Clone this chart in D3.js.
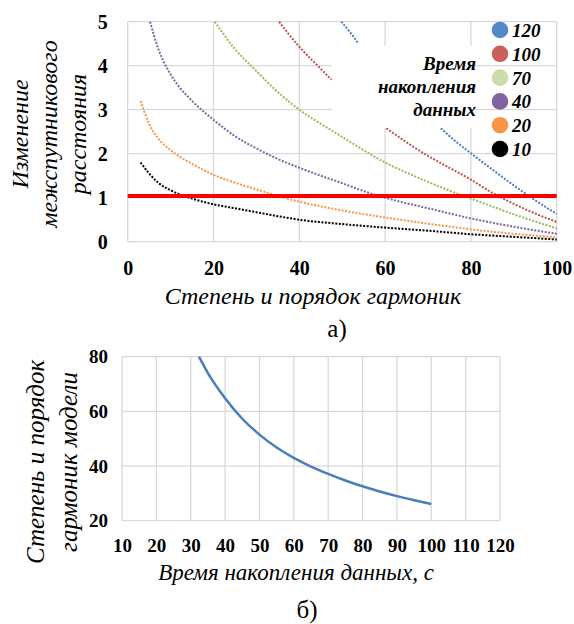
<!DOCTYPE html>
<html>
<head>
<meta charset="utf-8">
<script src="https://cdn.jsdelivr.net/npm/d3@7"></script>
<style>
  body { margin: 0; background: #fff; }
  svg { display: block; }
  svg text { font-family: "Liberation Serif", "Times New Roman", Tinos, "DejaVu Serif", serif; fill: #000; }
</style>
</head>
<body>
<svg id="chart" width="574" height="624"></svg>
<script>
// ---------- Panel (a): distance change vs harmonic degree, per accumulation time ----------
const degreeTicks = [0, 20, 40, 60, 80, 100];
const changeTicks = [0, 1, 2, 3, 4, 5];
const thresholdValue = 1.04;

// accumulation time 10 s
const deg10 = [3, 5, 7, 10, 12, 15, 20, 25, 30, 35, 40, 50, 60, 70, 80, 90, 100];
const val10 = [1.80, 1.55, 1.35, 1.17, 1.08, 0.98, 0.85, 0.76, 0.67, 0.58, 0.50, 0.40, 0.32, 0.25, 0.17, 0.11, 0.05];
// accumulation time 20 s
const deg20 = [3, 5, 7, 10, 12, 15, 20, 25, 30, 35, 40, 50, 60, 70, 80, 90, 100];
const val20 = [3.20, 2.68, 2.36, 2.08, 1.94, 1.77, 1.52, 1.34, 1.19, 1.04, 0.91, 0.71, 0.55, 0.41, 0.28, 0.18, 0.10];
// accumulation time 40 s
const deg40 = [5.2, 7, 10, 12, 15, 20, 25, 30, 35, 40, 45, 50, 55, 60, 70, 80, 90, 100];
const val40 = [5.0, 4.42, 3.80, 3.52, 3.20, 2.77, 2.40, 2.12, 1.88, 1.68, 1.50, 1.33, 1.15, 1.00, 0.76, 0.53, 0.34, 0.18];
// accumulation time 70 s
const deg70 = [20.3, 25, 30, 35, 40, 45, 50, 55, 60, 65, 70, 75, 80, 85, 90, 95, 100];
const val70 = [5.0, 4.38, 3.88, 3.40, 3.00, 2.68, 2.38, 2.08, 1.80, 1.57, 1.36, 1.16, 0.98, 0.80, 0.62, 0.46, 0.30];
// accumulation time 100 s (null = hidden behind the caption box)
const deg100 = [35.3, 40, 45, 47.5, 54, 60.3, 65, 70, 75, 80, 85, 90, 95, 100];
const val100 = [5.0, 4.43, 3.93, 3.68, null, 2.58, 2.26, 1.95, 1.68, 1.41, 1.11, 0.86, 0.64, 0.45];
// accumulation time 120 s
const deg120 = [49.8, 52, 53.6, 63, 73, 75, 80, 85, 90, 95, 100];
const val120 = [5.0, 4.74, 4.53, null, 2.58, 2.40, 2.01, 1.64, 1.28, 0.94, 0.63];

const timeLabels = ["120", "100", "70", "40", "20", "10"];
const lineColors = ["#4a7ebb", "#c0504d", "#9bbb59", "#8064a2", "#f79646", "#000000"];
const markerColors = ["#5588c8", "#c9605c", "#cbdcaa", "#8064a2", "#f79646", "#000000"];
const captionLines = ["Время", "накопления", "данных"];

// ---------- Panel (b): model harmonic degree vs accumulation time ----------
const timeTicks = [10, 20, 30, 40, 50, 60, 70, 80, 90, 100, 110, 120];
const degreeTicksB = [20, 40, 60, 80];
const timeB = [32.4, 35, 40, 45, 50, 55, 60, 65, 70, 75, 80, 85, 90, 95, 100];
const degreeB = [80, 74, 64.8, 57.3, 51.5, 46.8, 43.0, 39.8, 37.1, 34.7, 32.6, 30.7, 29.0, 27.5, 26.1];

const FONT = "'Liberation Serif', 'Times New Roman', Tinos, 'DejaVu Serif', serif";
const svg = d3.select("#chart").attr("font-family", FONT);
const gridColor = "#d9d9d9";

// ===== Panel (a) =====
const xA = d3.scaleLinear().domain([0, 100]).range([127.7, 556.7]);
const yA = d3.scaleLinear().domain([0, 5]).range([241.7, 21.7]);

const gA = svg.append("g");
gA.selectAll("line.gx").data(degreeTicks).join("line")
  .attr("x1", d => xA(d)).attr("x2", d => xA(d))
  .attr("y1", yA(0)).attr("y2", yA(5))
  .attr("stroke", gridColor).attr("stroke-width", 1.3);
gA.selectAll("line.gy").data(changeTicks).join("line")
  .attr("x1", xA(0)).attr("x2", xA(100))
  .attr("y1", d => yA(d)).attr("y2", d => yA(d))
  .attr("stroke", gridColor).attr("stroke-width", 1.3);

const seriesA = [
  { deg: deg120, val: val120 },
  { deg: deg100, val: val100 },
  { deg: deg70, val: val70 },
  { deg: deg40, val: val40 },
  { deg: deg20, val: val20 },
  { deg: deg10, val: val10 }
];
const lineA = d3.line()
  .defined(p => p[1] !== null)
  .x(p => xA(p[0])).y(p => yA(p[1]))
  .curve(d3.curveMonotoneX);

seriesA.forEach((s, i) => {
  const pts = s.deg.map((d, k) => [d, s.val[k]]);
  gA.append("path")
    .attr("d", lineA(pts))
    .attr("fill", "none")
    .attr("stroke", lineColors[i])
    .attr("stroke-width", 2)
    .attr("stroke-dasharray", "2 1.5");
});

// threshold line
gA.append("line")
  .attr("x1", xA(0)).attr("x2", xA(100))
  .attr("y1", yA(thresholdValue)).attr("y2", yA(thresholdValue))
  .attr("stroke", "#ff0000").attr("stroke-width", 4);

// caption box of the legend
gA.append("rect")
  .attr("x", 332).attr("y", 46).attr("width", 143).attr("height", 82)
  .attr("fill", "#fff");
gA.append("g").selectAll("text").data(captionLines).join("text")
  .attr("x", 476).attr("y", (d, i) => 70 + i * 23)
  .attr("text-anchor", "end")
  .attr("font-size", 19).attr("font-weight", "bold").attr("font-style", "italic")
  .text(d => d);

// legend entries
const legend = gA.append("g");
timeLabels.forEach((t, i) => {
  const cy = 30 + i * 23.8;
  legend.append("circle").attr("cx", 500).attr("cy", cy).attr("r", 8.3).attr("fill", markerColors[i]);
  legend.append("text").attr("x", 512).attr("y", cy + 7)
    .attr("font-size", 19).attr("font-weight", "bold").attr("font-style", "italic")
    .text(t);
});

// axes (a)
const axXA = gA.append("g").attr("transform", `translate(0,${yA(0)})`)
  .call(d3.axisBottom(xA).tickValues(degreeTicks).tickSize(0).tickPadding(19));
const axYA = gA.append("g").attr("transform", `translate(${xA(0)},0)`)
  .call(d3.axisLeft(yA).tickValues(changeTicks).tickSize(0).tickPadding(20).tickFormat(d3.format("d")));
[axXA, axYA].forEach(a => {
  a.attr("font-family", FONT);
  a.select(".domain").remove();
  a.selectAll("text").attr("font-size", 20).attr("font-weight", "bold").attr("fill", "#000");
});

// axis titles (a)
const yTitleA = ["Изменение", "межспутникового", "расстояния"];
gA.append("g").selectAll("text").data(yTitleA).join("text")
  .attr("transform", (d, i) => `translate(${28 + i * 29},134) rotate(-90)`)
  .attr("text-anchor", "middle")
  .attr("font-size", 24).attr("font-style", "italic")
  .text(d => d);
gA.append("text").attr("x", 313).attr("y", 304).attr("text-anchor", "middle")
  .attr("font-size", 24).attr("font-style", "italic")
  .text("Степень и порядок гармоник");
gA.append("text").attr("x", 337).attr("y", 337).attr("text-anchor", "middle")
  .attr("font-size", 25).text("а)");

// ===== Panel (b) =====
const xB = d3.scaleLinear().domain([10, 120]).range([122, 500]);
const yB = d3.scaleLinear().domain([20, 80]).range([520.7, 356.7]);
const gB = svg.append("g");
gB.selectAll("line.gx").data(timeTicks).join("line")
  .attr("x1", d => xB(d)).attr("x2", d => xB(d))
  .attr("y1", yB(20)).attr("y2", yB(80))
  .attr("stroke", gridColor).attr("stroke-width", 1.3);
gB.selectAll("line.gy").data(degreeTicksB).join("line")
  .attr("x1", xB(10)).attr("x2", xB(120))
  .attr("y1", d => yB(d)).attr("y2", d => yB(d))
  .attr("stroke", gridColor).attr("stroke-width", 1.3);

const lineB = d3.line().x((d, k) => xB(timeB[k])).y(d => yB(d)).curve(d3.curveMonotoneX);
gB.append("path").attr("d", lineB(degreeB))
  .attr("fill", "none").attr("stroke", "#4a7ebb").attr("stroke-width", 2.5);

const axXB = gB.append("g").attr("transform", `translate(0,${yB(20)})`)
  .call(d3.axisBottom(xB).tickValues(timeTicks).tickSize(0).tickPadding(18));
const axYB = gB.append("g").attr("transform", `translate(${xB(10)},0)`)
  .call(d3.axisLeft(yB).tickValues(degreeTicksB).tickSize(0).tickPadding(14));
[axXB, axYB].forEach(a => {
  a.attr("font-family", FONT);
  a.select(".domain").remove();
  a.selectAll("text").attr("font-size", 19).attr("font-weight", "bold").attr("fill", "#000");
});

const yTitleB = ["Степень и порядок", "гармоник модели"];
gB.append("g").selectAll("text").data(yTitleB).join("text")
  .attr("transform", (d, i) => `translate(${44 + i * 33},462) rotate(-90)`)
  .attr("text-anchor", "middle")
  .attr("font-size", 25).attr("font-style", "italic")
  .text(d => d);
gB.append("text").attr("x", 296).attr("y", 580).attr("text-anchor", "middle")
  .attr("font-size", 23).attr("font-style", "italic")
  .text("Время накопления данных, с");
gB.append("text").attr("x", 307).attr("y", 618).attr("text-anchor", "middle")
  .attr("font-size", 25).text("б)");
</script>
</body>
</html>
